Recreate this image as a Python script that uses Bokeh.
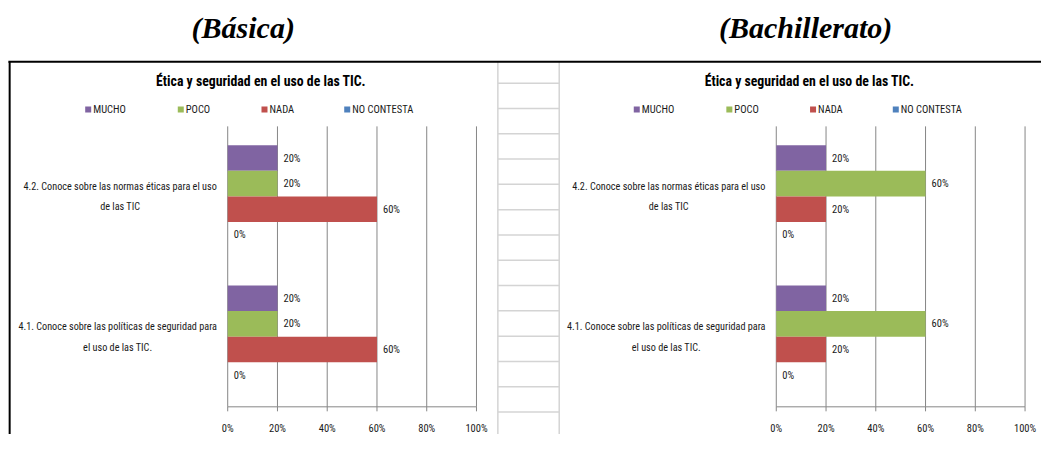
from bokeh.plotting import figure
from bokeh.models import Range1d, ColumnDataSource
from bokeh.core.properties import value
from bokeh.embed import file_html
from bokeh.resources import INLINE

# ---------------- data ----------------
headers = ["(Básica)", "(Bachillerato)"]
chart_title = "Ética y seguridad en el uso de las TIC."
categories = [
    "4.1. Conoce sobre las políticas de seguridad para el uso de las TIC.",
    "4.2. Conoce sobre las normas éticas para el uso de las TIC",
]
category_lines = [
    ["4.1. Conoce sobre las políticas de seguridad para", "el uso de las TIC."],
    ["4.2. Conoce sobre las normas éticas para el uso", "de las TIC"],
]
series = ["MUCHO", "POCO", "NADA", "NO CONTESTA"]
colors = ["#8064A2", "#9BBB59", "#C0504D", "#4F81BD"]
basica_41 = [20, 20, 60, 0]
basica_42 = [20, 20, 60, 0]
bach_41 = [20, 60, 20, 0]
bach_42 = [20, 60, 20, 0]
ticks = [0, 20, 40, 60, 80, 100]
tick_labels = ["0%", "20%", "40%", "60%", "80%", "100%"]

# ---------------- layout (reference pixels scaled to the figure) ----------------
W, H = 1041, 434
SX, SY = W / 1057.0, H / 450.0
NARROW = "'Roboto Condensed', 'DejaVu Sans Condensed', 'Liberation Sans Narrow', Roboto, sans-serif"
SERIF = "'Liberation Serif', 'Times New Roman', serif"
GRID = "#868686"
TXT = "#1a1a1a"
SHIFT = 557.0  # horizontal distance between the two charts (reference px)


def fx(x):
    return x * SX


def fy(y):
    return y * SY


def span_range(v0, v1, p0, p1, total, down=False):
    """Range1d so that value v0 sits at figure pixel p0 and v1 at p1."""
    if down:
        s = (p0 - p1) / (v1 - v0)
        start = v0 - (total - p0) / s
        return Range1d(start, start + total / s)
    s = (p1 - p0) / (v1 - v0)
    start = v0 - p0 / s
    return Range1d(start, start + total / s)


p = figure(width=W, height=H, x_range=Range1d(0, W), y_range=Range1d(H, 0),
           output_backend="svg", toolbar_location=None, min_border=0,
           x_axis_location=None, y_axis_location=None)
p.grid.visible = False
p.outline_line_color = None
p.background_fill_color = "white"
p.border_fill_color = "white"

AXIS_Y, TOP_Y = 421.3, 130.5
p.extra_y_ranges = {"band": span_range(0, 2, fy(AXIS_Y), fy(TOP_Y), H, down=True)}
p.extra_x_ranges = {
    "xl": span_range(0, 100, fx(230.7), fx(483.3), W),
    "xr": span_range(0, 100, fx(230.7 + SHIFT), fx(483.3 + SHIFT), W),
}
band_px = (fy(AXIS_Y) - fy(TOP_Y)) / 2.0

# spreadsheet strip between the two charts
strip_x0, strip_x1 = fx(505), fx(567.3)
row_ys = [85.7 + 26.23 * k for k in range(14)]
p.segment(x0=[strip_x0] * len(row_ys), x1=[strip_x1] * len(row_ys),
          y0=[fy(y) for y in row_ys], y1=[fy(y) for y in row_ys],
          line_color="#D4D4D4", line_width=1.5)
p.segment(x0=[strip_x0, strip_x1], x1=[strip_x0, strip_x1],
          y0=[fy(63)] * 2, y1=[H] * 2, line_color="#D4D4D4", line_width=1.5)

# black frame lines
p.segment(x0=[fx(8)], x1=[W], y0=[fy(63.5)], y1=[fy(63.5)], line_color="black", line_width=2)
p.segment(x0=[fx(9.3)], x1=[fx(9.3)], y0=[fy(63.5)], y1=[H], line_color="black", line_width=2)

# headers
p.text(x=[fx(246.5), fx(817.5)], y=[fy(28), fy(28)], text=headers,
       text_font=value(SERIF), text_font_style="bold italic",
       text_font_size="30px", text_align="center", text_baseline="middle",
       text_color="black")

bar_h = 1.0 / (4 + 1.47)
offsets = [1.5, 0.5, -0.5, -1.5]


def draw_chart(xname, vals_by_cat, dx):
    # title
    p.text(x=[fx(264.5 + dx)], y=[fy(83.5)], text=[chart_title],
           text_font=value(NARROW), text_font_style="bold", text_font_size="13.8px",
           text_align="center", text_baseline="middle", text_color="black")
    # legend
    legend_sq_x = [86 + dx, 180 + dx, 265 + dx, 349 + dx]
    p.rect(x=[fx(v) + 3 for v in legend_sq_x], y=[fy(113)] * 4, width=6, height=6,
           fill_color=colors, line_color=None)
    p.text(x=[fx(v) + 8 for v in legend_sq_x], y=[fy(113.5)] * 4, text=series,
           text_font=value(NARROW), text_font_size="10.5px", text_align="left",
           text_baseline="middle", text_color=TXT)
    # gridlines and axes
    p.segment(x0=ticks[1:], x1=ticks[1:], y0=[0] * 5, y1=[2] * 5,
              x_range_name=xname, y_range_name="band", line_color=GRID, line_width=1)
    p.segment(x0=[0, 0], x1=[0, 100], y0=[0, 0], y1=[2, 0],
              x_range_name=xname, y_range_name="band", line_color=GRID, line_width=1)
    p.segment(x0=ticks, x1=ticks, y0=[0] * 6, y1=[-4.5 / band_px] * 6,
              x_range_name=xname, y_range_name="band", line_color=GRID, line_width=1)
    p.text(x=ticks, y=[0] * 6, text=tick_labels, y_offset=15,
           x_range_name=xname, y_range_name="band",
           text_font=value(NARROW), text_font_size="10.5px", text_align="center",
           text_baseline="top", text_color=TXT)
    # bars
    ys, rights, cols, labs = [], [], [], []
    for ci, vals in enumerate(vals_by_cat):
        for k, v in enumerate(vals):
            ys.append(ci + 0.5 + offsets[k] * bar_h)
            rights.append(v)
            cols.append(colors[k])
            labs.append(f"{v}%")
    src = ColumnDataSource(dict(y=ys, right=rights, color=cols, lab=labs))
    p.hbar(y="y", left=0, right="right", height=bar_h, fill_color="color",
           line_color=None, source=src, x_range_name=xname, y_range_name="band")
    p.text(x="right", y="y", text="lab", x_offset=6, source=src,
           x_range_name=xname, y_range_name="band",
           text_font=value(NARROW), text_font_size="10.5px", text_align="left",
           text_baseline="middle", text_color=TXT)
    # category labels (two lines, centred)
    label_x = [119 + dx, 121.5 + dx]
    for ci, lines in enumerate(category_lines):
        p.text(x=[fx(label_x[ci])] * 2, y=[ci + 0.5] * 2, text=lines,
               y_offset=[-10, 10.5], y_range_name="band",
               text_font=value(NARROW), text_font_size="10.2px", text_align="center",
               text_baseline="middle", text_color=TXT)


draw_chart("xl", [basica_41, basica_42], 0.0)
draw_chart("xr", [bach_41, bach_42], SHIFT)

open("out.html", "w").write(file_html(p, INLINE))
